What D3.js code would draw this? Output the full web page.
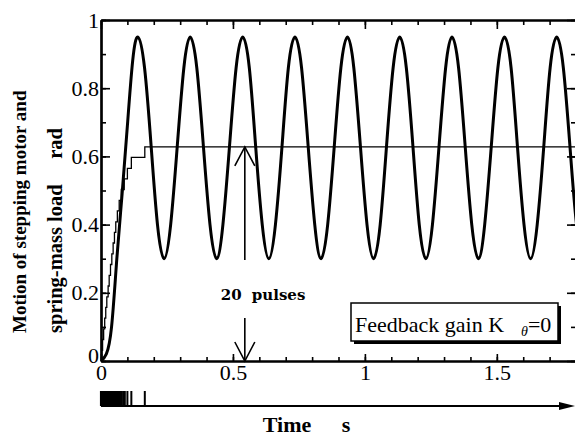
<!DOCTYPE html>
<html>
<head>
<meta charset="utf-8">
<script src="https://cdn.jsdelivr.net/npm/d3@7"></script>
<style>
  body { margin: 0; background: #fff; }
  svg { display: block; }
  .tick-label { font-family: "Liberation Serif", "Times New Roman", serif; font-size: 22px; }
  .axis-title { font-family: "Liberation Serif", "Times New Roman", serif; font-weight: bold; font-size: 20.5px; }
</style>
</head>
<body>
<svg id="chart" width="575" height="438"></svg>
<script>
// tick labels
const xTickValues = [0, 0.5, 1, 1.5];
const xTickLabels = ["0", "0.5", "1", "1.5"];
const yTickValues = [0, 0.2, 0.4, 0.6, 0.8, 1];
const yTickLabels = ["0", "0.2", "0.4", "0.6", "0.8", "1"];

// spring-mass load (thick curve)
const loadTime = [0, 0.02, 0.04, 0.06, 0.08, 0.10, 0.12,
  0.140, 0.165, 0.190, 0.214, 0.239, 0.264, 0.289, 0.314,
  0.338, 0.363, 0.388, 0.413, 0.438, 0.462, 0.487, 0.512,
  0.537, 0.562, 0.586, 0.611, 0.636, 0.661, 0.686, 0.710,
  0.735, 0.760, 0.785, 0.810, 0.834, 0.859, 0.884, 0.909,
  0.934, 0.958, 0.983, 1.008, 1.033, 1.058, 1.082, 1.107,
  1.132, 1.157, 1.182, 1.206, 1.231, 1.256, 1.281, 1.306,
  1.330, 1.355, 1.380, 1.405, 1.430, 1.454, 1.479, 1.504,
  1.529, 1.554, 1.578, 1.603, 1.628, 1.653, 1.678, 1.702,
  1.727, 1.752, 1.777, 1.802, 1.826];
const loadAngle = [0, 0.02, 0.10, 0.30, 0.49, 0.69, 0.88,
  0.95, 0.86, 0.63, 0.40, 0.30, 0.40, 0.63, 0.86,
  0.95, 0.86, 0.63, 0.40, 0.30, 0.40, 0.63, 0.86,
  0.95, 0.86, 0.63, 0.40, 0.30, 0.40, 0.63, 0.86,
  0.95, 0.86, 0.63, 0.40, 0.30, 0.40, 0.63, 0.86,
  0.95, 0.86, 0.63, 0.40, 0.30, 0.40, 0.63, 0.86,
  0.95, 0.86, 0.63, 0.40, 0.30, 0.40, 0.63, 0.86,
  0.95, 0.86, 0.63, 0.40, 0.30, 0.40, 0.63, 0.86,
  0.95, 0.86, 0.63, 0.40, 0.30, 0.40, 0.63, 0.86,
  0.95, 0.86, 0.63, 0.40, 0.30];

// stepping motor: 20 pulses, one step each
const pulseTime = [0.002, 0.006, 0.010, 0.014, 0.018, 0.022, 0.027, 0.031, 0.036, 0.041,
  0.046, 0.051, 0.056, 0.062, 0.069, 0.077, 0.088, 0.100, 0.115, 0.166];
const motorAngle = [0.031, 0.063, 0.094, 0.126, 0.157, 0.188, 0.220, 0.251, 0.283, 0.314,
  0.346, 0.377, 0.408, 0.440, 0.471, 0.503, 0.534, 0.565, 0.597, 0.628];

const svg = d3.select("#chart");

const x = d3.scaleLinear().domain([0, 1.8]).range([101, 576]);
const y = d3.scaleLinear().domain([0, 1]).range([361, 20]);

const minorX = x.ticks(18);
const minorY = y.ticks(10);

// ticks all point into the plot
function drawAxis(gen, transform, values, size, labels) {
  const g = svg.append("g")
      .attr("transform", transform)
      .call(gen.tickValues(values).tickSize(size).tickSizeOuter(0)
        .tickPadding(2)
        .tickFormat((d, i) => labels ? labels[i] : ""));
  g.selectAll(".tick line").attr("stroke", "#000").attr("stroke-width", 1.6);
  g.select(".domain").attr("stroke", "#000").attr("stroke-width", 2.2);
  g.selectAll("text").attr("class", "tick-label").attr("fill", "#000")
      .attr("font-size", null).attr("font-family", null);
  return g;
}

drawAxis(d3.axisBottom(x), "translate(0,361)", minorX, -4);
drawAxis(d3.axisBottom(x), "translate(0,361)", xTickValues, -7, xTickLabels)
  .selectAll("text").attr("dy", "0.78em");
drawAxis(d3.axisTop(x), "translate(0,20)", minorX, -5);
drawAxis(d3.axisTop(x), "translate(0,20)", xTickValues, -9);
drawAxis(d3.axisLeft(y), "translate(101,0)", minorY, -5);
const yAxis = drawAxis(d3.axisLeft(y), "translate(101,0)", yTickValues, -9, yTickLabels);
// lift the y "0" off the x "0"
yAxis.selectAll("text").filter(d => d === 0).attr("y", -6);
drawAxis(d3.axisRight(y), "translate(576,0)", minorY, -5);
drawAxis(d3.axisRight(y), "translate(576,0)", yTickValues, -9);

svg.append("defs").append("clipPath").attr("id", "plot")
  .append("rect").attr("x", 101).attr("y", 17).attr("width", 475).attr("height", 345);

const plot = svg.append("g").attr("clip-path", "url(#plot)");

// motor staircase
const steps = [[0, 0]].concat(pulseTime.map((t, i) => [t, motorAngle[i]]));
steps.push([1.8, motorAngle[motorAngle.length - 1]]);
plot.append("path")
    .attr("d", d3.line().x(d => x(d[0])).y(d => y(d[1])).curve(d3.curveStepAfter)(steps))
    .attr("fill", "none")
    .attr("stroke", "#000")
    .attr("stroke-width", 1.3);

// load
plot.append("path")
    .attr("d", d3.line().x((d, i) => x(loadTime[i])).y(d => y(d)).curve(d3.curveNatural)(loadAngle))
    .attr("fill", "none")
    .attr("stroke", "#000")
    .attr("stroke-width", 3);

// 20 pulses annotation
const arrowT = 0.545;
const ax = x(arrowT);
svg.append("line").attr("x1", ax).attr("x2", ax)
    .attr("y1", y(0.628)).attr("y2", y(0.296))
    .attr("stroke", "#000").attr("stroke-width", 1.6);
svg.append("path")
    .attr("d", `M${ax - 10},${y(0.628) + 19}L${ax},${y(0.628)}L${ax + 10},${y(0.628) + 19}`)
    .attr("fill", "none").attr("stroke", "#000").attr("stroke-width", 1.6);
svg.append("line").attr("x1", ax).attr("x2", ax)
    .attr("y1", y(0.126)).attr("y2", y(0))
    .attr("stroke", "#000").attr("stroke-width", 1.6);
svg.append("path")
    .attr("d", `M${ax - 10},${y(0) - 19}L${ax},${y(0)}L${ax + 10},${y(0) - 19}`)
    .attr("fill", "none").attr("stroke", "#000").attr("stroke-width", 1.6);

svg.append("text")
    .attr("x", x(0.614)).attr("y", y(0.179))
    .attr("text-anchor", "middle")
    .style("font-family", "'DejaVu Serif', serif")
    .style("font-weight", "bold")
    .style("font-size", "15px")
    .style("word-spacing", "5px")
    .text("20 pulses");

// legend box with shadow
svg.append("rect").attr("x", 354).attr("y", 306).attr("width", 207).attr("height", 38).attr("fill", "#000");
svg.append("rect").attr("x", 351).attr("y", 303).attr("width", 207).attr("height", 38)
    .attr("fill", "#fff").attr("stroke", "#000").attr("stroke-width", 1.5);
const legend = svg.append("text")
    .attr("x", 355).attr("y", 332)
    .style("font-family", "'Liberation Serif', 'Times New Roman', serif")
    .style("font-size", "22px");
legend.append("tspan").text("Feedback gain K");
legend.append("tspan").attr("dx", 17).attr("dy", 4)
    .style("font-size", "14px").style("font-style", "italic").text("θ");
legend.append("tspan").attr("dy", -4).text("=0");

// pulse train along the time arrow
const train = svg.append("g");
train.selectAll("line.pulse")
    .data(pulseTime)
  .enter().append("line")
    .attr("class", "pulse")
    .attr("x1", d => x(d)).attr("x2", d => x(d))
    .attr("y1", 391).attr("y2", 406)
    .attr("stroke", "#000")
    .attr("stroke-width", d => d < 0.09 ? 3.2 : 2);
train.append("line")
    .attr("x1", x(0)).attr("x2", 562)
    .attr("y1", 406).attr("y2", 406)
    .attr("stroke", "#000").attr("stroke-width", 2);
train.append("path")
    .attr("d", "M559,402L575,406L559,410Z")
    .attr("fill", "#000");

// axis titles
svg.append("text").attr("class", "axis-title")
    .attr("x", 287).attr("y", 432)
    .attr("text-anchor", "middle")
    .style("font-size", "22px")
    .text("Time");
svg.append("text").attr("class", "axis-title")
    .attr("x", 346).attr("y", 432)
    .attr("text-anchor", "middle")
    .style("font-size", "22px")
    .text("s");

svg.append("text").attr("class", "axis-title")
    .attr("transform", "translate(26,333) rotate(-90)")
    .style("font-size", "19px")
    .text("Motion of stepping motor and");
svg.append("text").attr("class", "axis-title")
    .attr("transform", "translate(62,333) rotate(-90)")
    .text("spring-mass load");
svg.append("text").attr("class", "axis-title")
    .attr("transform", "translate(62,128) rotate(-90)")
    .attr("text-anchor", "end")
    .text("rad");
</script>
</body>
</html>
